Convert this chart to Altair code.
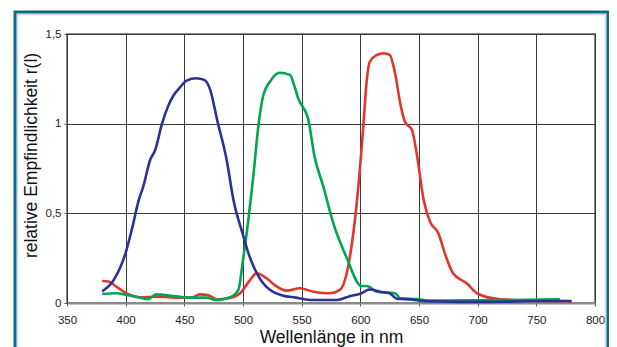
import altair as alt
import pandas as pd

# ---- data ----
blue_nm = [380, 390, 400, 406, 411, 415, 421, 425, 431, 436, 441, 446, 452, 460, 467, 472, 478, 486, 492,
           500, 505, 510, 515, 520, 525, 532, 545, 560, 580, 591, 600, 608, 617, 625, 631, 645, 653, 670,
           690, 720, 750, 780]
blue_val = [0.065, 0.13, 0.28, 0.43, 0.57, 0.65, 0.80, 0.85, 1.00, 1.095, 1.16, 1.20, 1.24, 1.253, 1.244, 1.19,
            1.02, 0.80, 0.57, 0.38, 0.27, 0.19, 0.13, 0.09, 0.065, 0.045, 0.03, 0.017, 0.017, 0.038, 0.052,
            0.075, 0.063, 0.054, 0.024, 0.019, 0.012, 0.008, 0.006, 0.007, 0.011, 0.011]

green_nm = [380, 392, 401, 411, 419, 426, 440, 455, 469, 477, 489, 496, 500, 504.5, 509, 513, 517, 524, 531,
            540, 544, 547, 555.7, 561, 568.5, 577, 588, 601, 605.5, 614, 629.6, 634, 648, 659, 700, 740, 770]
green_val = [0.05, 0.054, 0.045, 0.032, 0.021, 0.048, 0.039, 0.03, 0.03, 0.017, 0.032, 0.073, 0.24, 0.46, 0.72,
             0.98, 1.15, 1.244, 1.284, 1.272, 1.206, 1.142, 1.021, 0.816, 0.649, 0.444, 0.258, 0.095, 0.095,
             0.063, 0.054, 0.026, 0.022, 0.013, 0.015, 0.018, 0.02]

red_nm = [380, 386, 392, 401, 412, 426, 446, 457, 463, 470, 477.6, 487.5, 497.5, 506, 511.7, 520, 527, 537,
          548.6, 560, 574, 582.6, 588.4, 594, 598.3, 602.5, 605.5, 608, 614, 620, 625, 629.6, 634, 638, 644,
          648, 654, 659.4, 666.5, 672, 679, 690.6, 700.5, 719, 747, 780]
red_val = [0.123, 0.119, 0.091, 0.054, 0.032, 0.035, 0.03, 0.032, 0.048, 0.045, 0.021, 0.026, 0.054, 0.128,
           0.166, 0.138, 0.1, 0.069, 0.082, 0.063, 0.054, 0.073, 0.166, 0.389, 0.649, 0.983, 1.244, 1.345,
           1.383, 1.393, 1.383, 1.281, 1.114, 1.011, 0.965, 0.835, 0.574, 0.453, 0.389, 0.277, 0.166, 0.11,
           0.05, 0.021, 0.013, 0.01]

x_ticks = [350, 400, 450, 500, 550, 600, 650, 700, 750, 800]
y_ticks = [0, 0.5, 1, 1.5]

series = [("rot", red_nm, red_val, "#e0362c"),
          ("grün", green_nm, green_val, "#00a651"),
          ("blau", blue_nm, blue_val, "#2b3195")]

W, H = 528, 269
FONT = "Liberation Sans"

x_scale = alt.Scale(domain=[350, 800], nice=False, zero=False)
y_scale = alt.Scale(domain=[0, 1.5], nice=False)

layers = []

# decorative frame (teal) around the whole figure
frame = alt.Chart(pd.DataFrame({"a": [0]})).mark_rect(
    filled=False, stroke="#15678a", strokeWidth=3
).encode(x=alt.value(-52), x2=alt.value(541), y=alt.value(-22), y2=alt.value(360))
frame_inner = alt.Chart(pd.DataFrame({"a": [0]})).mark_rect(
    filled=False, stroke="#c9dde9", strokeWidth=1.5
).encode(x=alt.value(-49.5), x2=alt.value(538.5), y=alt.value(-19.5), y2=alt.value(360))
layers += [frame_inner, frame]

for name, nm, val, col in series:
    df = pd.DataFrame({"nm": nm, "r": val})
    layers.append(
        alt.Chart(df).mark_line(color=col, strokeWidth=2.6, interpolate="monotone").encode(
            x=alt.X("nm:Q", scale=x_scale,
                    axis=alt.Axis(values=x_ticks, title="Wellenlänge in nm", grid=True,
                                  gridColor="#3a3a3a", gridWidth=1, domainColor="#8a8a8a",
                                  domainWidth=2, tickColor="#555", tickSize=3, labelFontSize=11.5,
                                  labelColor="#222", labelPadding=8, labelFlush=False,
                                  titleFontSize=17.5, titleFontWeight="normal", titleColor="#111",
                                  titlePadding=3, labelFont=FONT, titleFont=FONT)),
            y=alt.Y("r:Q", scale=y_scale,
                    axis=alt.Axis(values=y_ticks, title="relative Empfindlichkeit r(l)", grid=True,
                                  gridColor="#3a3a3a", gridWidth=1, domainColor="#3a3a3a",
                                  tickColor="#555", tickSize=3, labelFontSize=11.5, labelColor="#222",
                                  labelPadding=3, labelFlush=False,
                                  labelExpr="replace(format(datum.value, '.1~f'), '.', ',')",
                                  titleFontSize=17.5, titleFontWeight="normal", titleColor="#111",
                                  titlePadding=5, titleY=121, labelFont=FONT, titleFont=FONT)),
        )
    )

chart = alt.layer(*layers).properties(
    width=W, height=H,
    autosize=alt.AutoSizeParams(type="none"),
    padding={"left": 59, "top": 26, "right": 14, "bottom": 44},
    background="white",
).configure_view(stroke="#8a8a8a", strokeWidth=2)

chart.save("out.html", embed_options={"renderer": "svg", "actions": False})
